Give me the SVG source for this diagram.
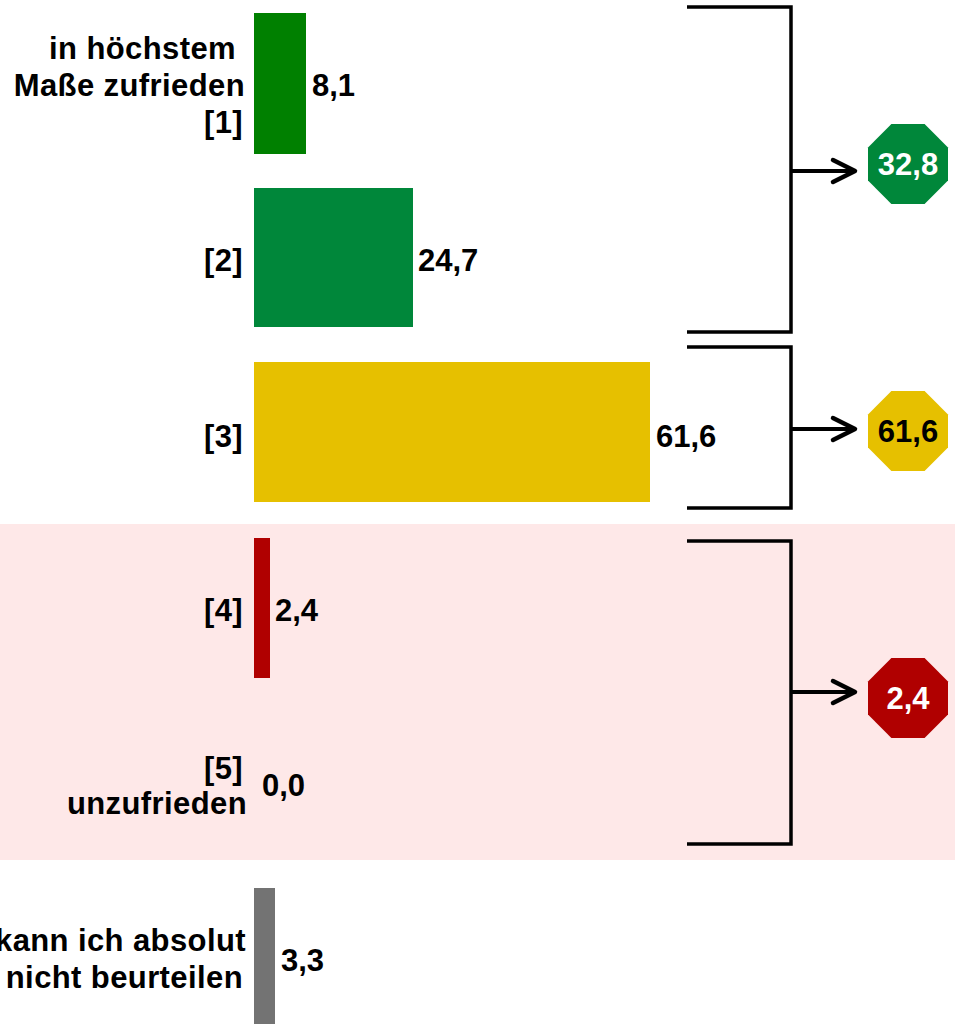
<svg xmlns="http://www.w3.org/2000/svg" width="955" height="1024" viewBox="0 0 955 1024">
<style>
text{font-family:"Liberation Sans",Arial,sans-serif;font-weight:bold;font-size:31px;fill:#000}
.l{text-anchor:end;letter-spacing:0.4px}
.o{text-anchor:middle}
.w{fill:#fff}
.br{fill:none;stroke:#000;stroke-width:3.5}
.ln{fill:none;stroke:#000;stroke-width:4}
.ar{fill:none;stroke:#000;stroke-width:4.5;stroke-linecap:round;stroke-linejoin:round}
</style>
<rect x="0" y="524" width="955" height="336" fill="#fee8e8"/>
<g id="bar1">
<rect x="254" y="13" width="52" height="141" fill="#008000"/>
<text class="l" x="236" y="59">in höchstem</text>
<text class="l" x="245" y="96">Maße zufrieden</text>
<text class="l" x="243" y="133">[1]</text>
<text x="312" y="96">8,1</text>
</g>
<g id="bar2">
<rect x="254" y="188" width="159" height="139" fill="#00873a"/>
<text class="l" x="243" y="271">[2]</text>
<text x="418" y="271">24,7</text>
</g>
<g id="bar3">
<rect x="254" y="362" width="396" height="140" fill="#e6c000"/>
<text class="l" x="243" y="447">[3]</text>
<text x="656" y="447">61,6</text>
</g>
<g id="bar4">
<rect x="254" y="538" width="16" height="140" fill="#b00000"/>
<text class="l" x="243" y="621">[4]</text>
<text x="275" y="621">2,4</text>
</g>
<g id="bar5">
<text class="l" x="243" y="779">[5]</text>
<text class="l" x="247" y="814">unzufrieden</text>
<text x="262" y="796">0,0</text>
</g>
<g id="bar6">
<rect x="254" y="888" width="21" height="136" fill="#737373"/>
<text class="l" x="246" y="951">kann ich absolut</text>
<text class="l" x="243" y="988">nicht beurteilen</text>
<text x="281" y="971">3,3</text>
</g>
<g id="connectors">
<polyline class="br" points="687,7 791,7 791,332 687,332"/>
<line class="ln" x1="791" y1="171" x2="853" y2="171"/>
<polyline class="ar" points="833,160 855,171 833,182"/>
<polyline class="br" points="687,347 791,347 791,508 687,508"/>
<line class="ln" x1="791" y1="429" x2="853" y2="429"/>
<polyline class="ar" points="833,418 855,429 833,440"/>
<polyline class="br" points="687,541 791,541 791,844 687,844"/>
<line class="ln" x1="791" y1="692" x2="853" y2="692"/>
<polyline class="ar" points="833,681 855,692 833,703"/>
</g>
<g id="sum1">
<polygon points="891.4,124 924.6,124 948,147.4 948,180.6 924.6,204 891.4,204 868,180.6 868,147.4" fill="#00873a"/>
<text class="o w" x="908" y="175">32,8</text>
</g>
<g id="sum2">
<polygon points="891.4,391 924.6,391 948,414.4 948,447.6 924.6,471 891.4,471 868,447.6 868,414.4" fill="#e6c000"/>
<text class="o" x="908" y="442">61,6</text>
</g>
<g id="sum3">
<polygon points="891.4,658 924.6,658 948,681.4 948,714.6 924.6,738 891.4,738 868,714.6 868,681.4" fill="#b00000"/>
<text class="o w" x="908" y="709">2,4</text>
</g>
</svg>
